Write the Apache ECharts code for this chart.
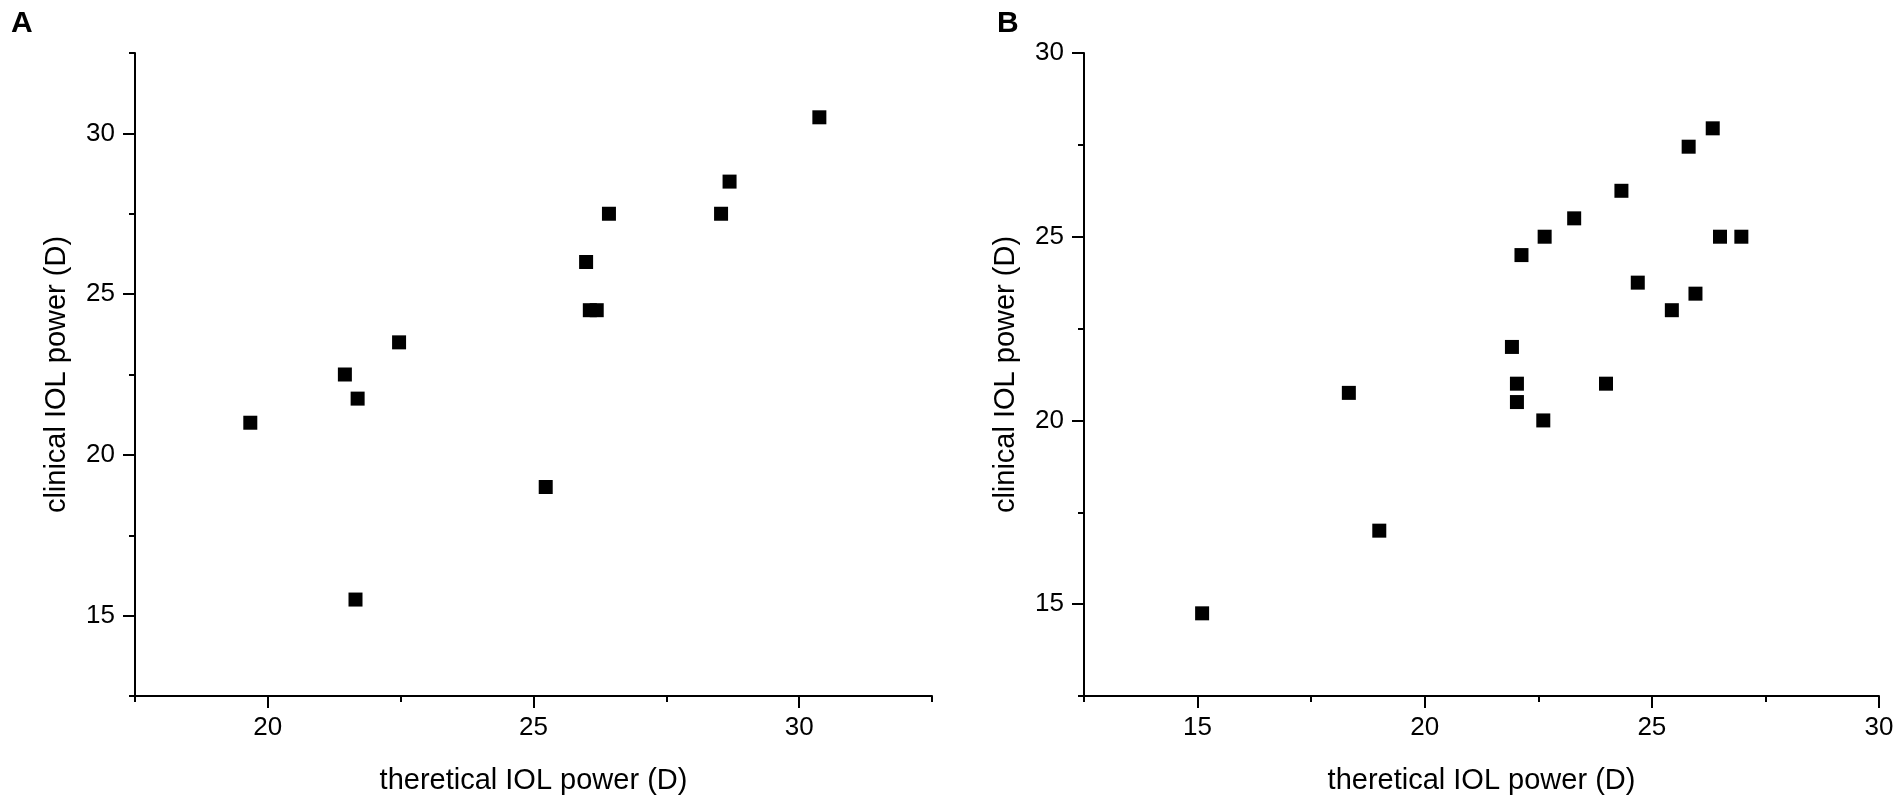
<!DOCTYPE html>
<html>
<head>
<meta charset="utf-8">
<title>IOL power scatter</title>
<script src="https://cdn.jsdelivr.net/npm/echarts@6/dist/echarts.min.js"></script>
<style>
  html, body { margin: 0; padding: 0; background: #fff; }
  #main { width: 1902px; height: 807px; }
</style>
</head>
<body>
<div id="main"></div>
<script>
// panel A: theoretical vs clinical IOL power
var theoA = [19.67, 21.45, 21.65, 21.69, 22.47, 25.23, 25.99, 26.06, 26.19, 26.42, 28.53, 28.69, 30.38];
var clinA = [21.0, 22.5, 15.5, 21.75, 23.5, 19.0, 26.0, 24.5, 24.5, 27.5, 27.5, 28.5, 30.5];

// panel B
var theoB = [15.1, 18.33, 19.0, 21.92, 22.03, 22.03, 22.13, 22.61, 22.64, 23.29, 23.99,
             24.33, 24.69, 25.44, 25.81, 25.96, 26.34, 26.5, 26.97];
var clinB = [14.75, 20.75, 17.0, 22.0, 21.0, 20.5, 24.5, 20.0, 25.0, 25.5, 21.0,
             26.25, 23.75, 23.0, 27.45, 23.45, 27.95, 25.0, 25.0];

// tick labels (major) and minor tick positions
var xMajorA = [20, 25, 30];
var xMinorA = [17.5, 22.5, 27.5, 32.5];
var yMajorA = [15, 20, 25, 30];
var yMinorA = [12.5, 17.5, 22.5, 27.5, 32.5];
var xMajorB = [15, 20, 25, 30];
var xMinorB = [12.5, 17.5, 22.5, 27.5];
var yMajorB = [15, 20, 25, 30];
var yMinorB = [12.5, 17.5, 22.5, 27.5];

var xTitle = 'theretical IOL power (D)';
var yTitle = 'clinical IOL power (D)';

var FONT = "'Liberation Sans', Arial, Helvetica, sans-serif";

function zip(xs, ys) {
  var out = [];
  for (var i = 0; i < xs.length; i++) out.push([xs[i], ys[i]]);
  return out;
}

// main axis: line, long ticks, labels, title
function mainAxis(dim, grid, min, max, ticks, name) {
  return {
    type: 'value',
    gridIndex: grid,
    position: dim === 'x' ? 'bottom' : 'left',
    min: min,
    max: max,
    name: name,
    nameLocation: 'middle',
    nameGap: dim === 'x' ? 70 : 64,
    nameRotate: dim === 'x' ? 0 : 90,
    nameTextStyle: { color: '#000', fontFamily: FONT, fontSize: 29 },
    axisLine: { show: true, onZero: false, lineStyle: { color: '#000', width: 2 } },
    axisTick: { show: true, customValues: ticks, length: 12, lineStyle: { color: '#000', width: 2 } },
    axisLabel: { show: true, customValues: ticks, margin: dim === 'x' ? 19 : 20,
                 color: '#000', fontFamily: FONT, fontSize: 26 },
    splitLine: { show: false }
  };
}

// overlay axis only for the short minor ticks
function minorAxis(dim, grid, min, max, ticks) {
  return {
    type: 'value',
    gridIndex: grid,
    position: dim === 'x' ? 'bottom' : 'left',
    offset: 0,
    min: min,
    max: max,
    axisLine: { show: false, onZero: false },
    axisTick: { show: true, customValues: ticks, length: 6, lineStyle: { color: '#000', width: 2 } },
    axisLabel: { show: false },
    splitLine: { show: false }
  };
}

var chart = echarts.init(document.getElementById('main'));

chart.setOption({
  backgroundColor: '#fff',
  animation: false,
  grid: [
    { left: 135, top: 53, width: 797, height: 643 },
    { left: 1084, top: 53, width: 795, height: 643 }
  ],
  xAxis: [
    mainAxis('x', 0, 17.5, 32.5, xMajorA, xTitle),
    minorAxis('x', 0, 17.5, 32.5, xMinorA),
    mainAxis('x', 1, 12.5, 30, xMajorB, xTitle),
    minorAxis('x', 1, 12.5, 30, xMinorB)
  ],
  yAxis: [
    mainAxis('y', 0, 12.5, 32.5, yMajorA, yTitle),
    minorAxis('y', 0, 12.5, 32.5, yMinorA),
    mainAxis('y', 1, 12.5, 30, yMajorB, yTitle),
    minorAxis('y', 1, 12.5, 30, yMinorB)
  ],
  graphic: [
    { type: 'text', left: 11, top: 9, style: { text: 'A', fill: '#000', font: 'bold 30px ' + FONT } },
    { type: 'text', left: 997, top: 9, style: { text: 'B', fill: '#000', font: 'bold 30px ' + FONT } }
  ],
  series: [
    {
      name: 'A', type: 'scatter', xAxisIndex: 0, yAxisIndex: 0,
      symbol: 'rect', symbolSize: 14,
      itemStyle: { color: '#000', opacity: 1 },
      data: zip(theoA, clinA)
    },
    {
      name: 'B', type: 'scatter', xAxisIndex: 2, yAxisIndex: 2,
      symbol: 'rect', symbolSize: 14,
      itemStyle: { color: '#000', opacity: 1 },
      data: zip(theoB, clinB)
    }
  ]
});
</script>
</body>
</html>
